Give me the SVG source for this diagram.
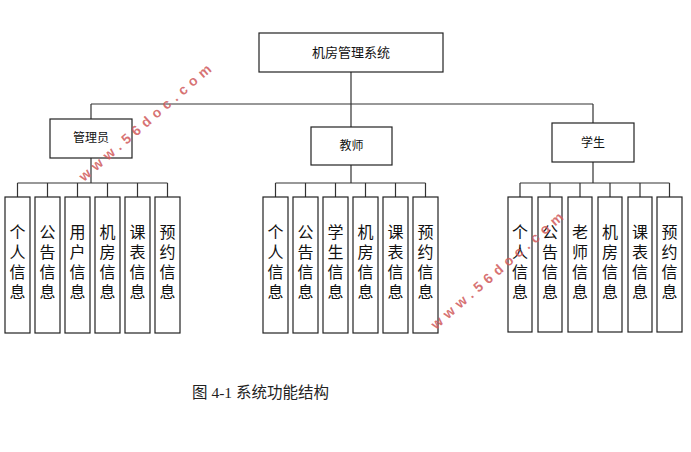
<svg xmlns="http://www.w3.org/2000/svg" width="691" height="452" viewBox="0 0 691 452">
<style>
.box{fill:#fff;stroke:#222;stroke-width:1.2}
.ln{fill:none;stroke:#333;stroke-width:1.2}
.t{font-family:"Noto Sans CJK SC","Liberation Sans",sans-serif;fill:#111;text-anchor:middle}
.v{font-family:"Noto Sans CJK SC","Liberation Sans",sans-serif;fill:#111;font-size:16px;writing-mode:vertical-rl;letter-spacing:4px;text-anchor:start}
.h{font-size:12px}
.cap{font-family:"Liberation Serif","Noto Sans CJK SC",serif;font-size:15.5px;fill:#222;text-anchor:middle}
.wm{font-family:"Liberation Sans",sans-serif;font-weight:bold;font-size:14px;fill:#d05a5a;fill-opacity:0.85}
</style>
<rect width="691" height="452" fill="#fff"/>
<g id="connectors">
<path class="ln" d="M351,72V104M91,104H593M91,104V119M351,104V127M593,104V123"/>
<path class="ln" d="M91,158V183M17.5,183H167.5M17.5,183V197M47.5,183V197M77.5,183V197M107.5,183V197M137.5,183V197M167.5,183V197"/>
<path class="ln" d="M351,165V183M275.5,183H425.5M275.5,183V197M305.5,183V197M335.5,183V197M365.5,183V197M395.5,183V197M425.5,183V197"/>
<path class="ln" d="M593,162V183M520,183H669.5M520,183V197M550,183V197M580,183V197M610,183V197M640,183V197M669.5,183V197"/>
</g>
<g id="root"><rect class="box" x="259" y="33" width="184" height="39"/><text class="t" x="351" y="57" font-size="13">机房管理系统</text></g>
<g id="admin"><rect class="box" x="50" y="119" width="82" height="39"/><text class="t h" x="91" y="142">管理员</text></g>
<g id="teacher"><rect class="box" x="311" y="127" width="81" height="38"/><text class="t h" x="351.5" y="150">教师</text></g>
<g id="student"><rect class="box" x="552" y="123" width="82" height="39"/><text class="t h" x="593" y="147">学生</text></g>
<g id="admin-items">
<g id="a1"><rect class="box" x="5" y="197" width="25" height="136"/><text class="v" x="17.5" y="224">个人信息</text></g>
<g id="a2"><rect class="box" x="35" y="197" width="25" height="136"/><text class="v" x="47.5" y="224">公告信息</text></g>
<g id="a3"><rect class="box" x="65" y="197" width="25" height="136"/><text class="v" x="77.5" y="224">用户信息</text></g>
<g id="a4"><rect class="box" x="95" y="197" width="25" height="136"/><text class="v" x="107.5" y="224">机房信息</text></g>
<g id="a5"><rect class="box" x="125" y="197" width="25" height="136"/><text class="v" x="137.5" y="224">课表信息</text></g>
<g id="a6"><rect class="box" x="155" y="197" width="25" height="136"/><text class="v" x="167.5" y="224">预约信息</text></g>
</g>
<g id="teacher-items">
<g id="t1"><rect class="box" x="263" y="197" width="25" height="136"/><text class="v" x="275.5" y="224">个人信息</text></g>
<g id="t2"><rect class="box" x="293" y="197" width="25" height="136"/><text class="v" x="305.5" y="224">公告信息</text></g>
<g id="t3"><rect class="box" x="323" y="197" width="25" height="136"/><text class="v" x="335.5" y="224">学生信息</text></g>
<g id="t4"><rect class="box" x="353" y="197" width="25" height="136"/><text class="v" x="365.5" y="224">机房信息</text></g>
<g id="t5"><rect class="box" x="383" y="197" width="25" height="136"/><text class="v" x="395.5" y="224">课表信息</text></g>
<g id="t6"><rect class="box" x="413" y="197" width="25" height="136"/><text class="v" x="425.5" y="224">预约信息</text></g>
</g>
<g id="student-items">
<g id="s1"><rect class="box" x="508" y="197" width="24" height="135"/><text class="v" x="520" y="224">个人信息</text></g>
<g id="s2"><rect class="box" x="538" y="197" width="24" height="135"/><text class="v" x="550" y="224">公告信息</text></g>
<g id="s3"><rect class="box" x="568" y="197" width="24" height="135"/><text class="v" x="580" y="224">老师信息</text></g>
<g id="s4"><rect class="box" x="598" y="197" width="24" height="135"/><text class="v" x="610" y="224">机房信息</text></g>
<g id="s5"><rect class="box" x="628" y="197" width="24" height="135"/><text class="v" x="640" y="224">课表信息</text></g>
<g id="s6"><rect class="box" x="657" y="197" width="25" height="135"/><text class="v" x="669.5" y="224">预约信息</text></g>
</g>
<text class="cap" x="260.5" y="398">图 4-1 系统功能结构</text>
<text class="wm" x="84" y="182" transform="rotate(-41 84 182)" textLength="170" lengthAdjust="spacing">www.56doc.com</text>
<text class="wm" x="436" y="330" transform="rotate(-41 436 330)" textLength="170" lengthAdjust="spacing">www.56doc.com</text>
</svg>
